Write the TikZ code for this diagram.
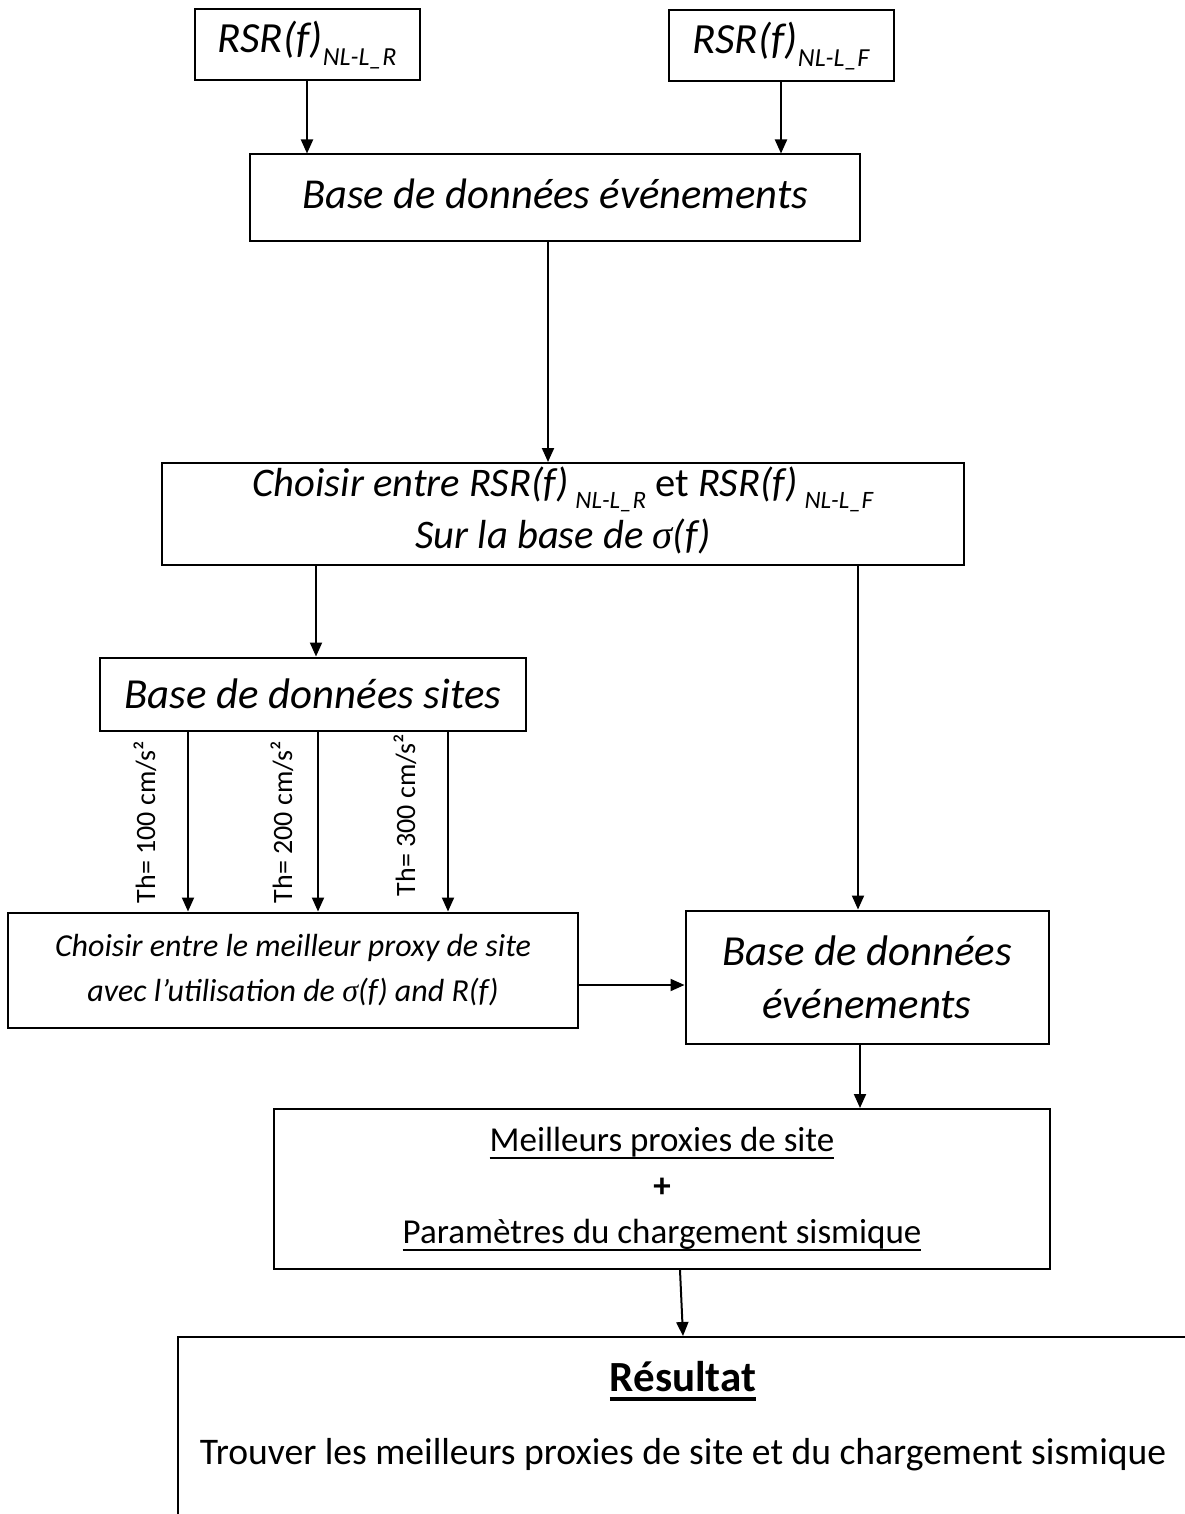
\documentclass[tikz,border=0pt]{standalone}
\usepackage{fontspec}
\setmainfont{Carlito}
\newfontfamily\sigfont{Liberation Serif}
\usetikzlibrary{arrows.meta}
\tikzset{
 box/.style={draw, line width=1pt, inner sep=0pt, align=center},
 txt/.style={inner sep=0pt, align=center},
 sz/.style 2 args={minimum width=#1*0.5pt, minimum height=#2*0.5pt},
 arr/.style={line width=1pt, -{Triangle[length=7pt,width=6pt]}},
 lbl/.style={rotate=90, font=\fontsize{14}{16}\selectfont, inner sep=0pt}
}
\newcommand{\sbx}[2]{\raisebox{-0.3em}{\fontsize{#1}{#1}\selectfont #2}}
\newcommand{\sig}{{\sigfont\itshape σ}}
\newcommand{\myul}[2][1.2pt]{\sbox0{#2}\leavevmode\rlap{\rule[-0.22em]{\wd0}{#1}}\usebox0}
\newcommand{\lift}[2]{\raisebox{#1}[\height][\depth]{#2}}
\begin{document}
\begin{tikzpicture}[x=0.5pt,y=-0.5pt]
\useasboundingbox (0,0) rectangle (1184,1514);
% coordinates for connector x positions
\coordinate (x188) at (188,0);
\coordinate (x318) at (318,0);
\coordinate (x448) at (448,0);
\coordinate (x316) at (316,0);
\coordinate (x548) at (548,0);
\coordinate (x858) at (858,0);
\coordinate (x860) at (860,0);
\coordinate (x680) at (680,0);
\coordinate (x683) at (683,0);
\coordinate (y985) at (0,985);

\node[box, sz={225}{71}] (rsrR) at (307,45) {\itshape\fontsize{21.5}{24}\selectfont RSR(f)\sbx{13}{NL-L\_R}};
\node[box, sz={225}{71}] (rsrF) at (781,46) {\itshape\fontsize{21.5}{24}\selectfont RSR(f)\sbx{13}{NL-L\_F}};
\node[box, sz={610}{87}, font=\itshape\fontsize{21.3}{24}\selectfont] (base1) at (555,198) {\lift{2pt}{Base de données événements}};
\node[box, sz={802}{102}] (choix) at (563,514) {};
\node[txt, font=\itshape\fontsize{20.3}{26}\selectfont] (choixtxt) at (563,512)
  {\begin{tabular}{@{}c@{}}Choisir entre RSR(f)\,\sbx{12.5}{NL-L\_R} {\upshape et} RSR(f)\,\sbx{12.5}{NL-L\_F}\\ Sur la base de \sig(f)\end{tabular}};
\node[box, sz={426}{73}, font=\itshape\fontsize{21.4}{24}\selectfont] (sites) at (313,694) {Base de données sites};
\node[box, sz={570}{115}, font=\itshape\fontsize{16}{22.5}\selectfont] (choix2) at (293,970)
  {Choisir entre le meilleur proxy de site\\ avec l’utilisation de \sig(f) and R(f)};
\node[box, sz={363}{133}, font=\itshape\fontsize{21.4}{26.5}\selectfont] (base2) at (867,977) {Base de données\\ événements};
\node[box, sz={776}{160}, font=\fontsize{17.5}{23}\selectfont] (meil) at (662,1189)
  {\myul{Meilleurs proxies de site}\\ \textbf{+}\\ \myul{Paramètres du chargement sismique}};
\node[box, sz={1072}{240}] (resbox) at (714,1457) {};
\node[txt, font=\bfseries\fontsize{21.5}{24}\selectfont] (restitle) at (683,1381) {\myul[1.8pt]{Résultat}};
\node[txt, font=\fontsize{18.8}{22}\selectfont] (restxt) at (683,1455) {Trouver les meilleurs proxies de site et du chargement sismique};

\node[lbl] (th1) at (145,822) {Th= 100 cm/s²};
\node[lbl] (th2) at (282,822) {Th= 200 cm/s²};
\node[lbl] (th3) at (405,815) {Th= 300 cm/s²};

\draw[arr] (rsrR.south) -- (rsrR.south |- base1.north);
\draw[arr] (rsrF.south) -- (rsrF.south |- base1.north);
\draw[arr] (base1.south -| x548) -- (choix.north -| x548);
\draw[arr] (choix.south -| x316) -- (sites.north -| x316);
\draw[arr] (choix.south -| x858) -- (base2.north -| x858);
\draw[arr] (sites.south -| x188) -- (choix2.north -| x188);
\draw[arr] (sites.south -| x318) -- (choix2.north -| x318);
\draw[arr] (sites.south -| x448) -- (choix2.north -| x448);
\draw[arr] (choix2.east |- y985) -- (base2.west |- y985);
\draw[arr] (base2.south -| x860) -- (meil.north -| x860);
\draw[arr] (meil.south -| x680) -- (resbox.north -| x683);
\end{tikzpicture}
\end{document}
